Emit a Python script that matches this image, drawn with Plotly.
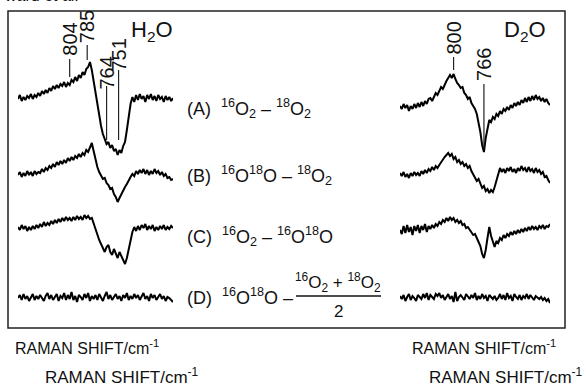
import plotly.graph_objects as go

# ---------------- data ----------------
WAVENUMBER = list(range(860, 691, -2))   # cm-1, 85 points

H2O_A = [1, 5, -1, 3, 0, 4, 2, 6, 1, 5,
         3, 7, 4, 9, 6, 10, 7, 12, 9, 14,
         11, 15, 12, 16, 14, 18, 13, 17, 15, 20,
         18, 23, 19, 25, 22, 28, 25, 31, 33, 38,
         30, 18, 6, -6, -16, -26, -34, -40, -44, -42,
         -48, -45, -51, -49, -55, -50, -53, -46, -42, -30,
         -16, -4, 3, -2, 5, 0, 6, 1, 4, -2,
         5, 1, 6, 0, 4, -1, 5, 1, 3, -2,
         4, 0, 3, -1, 2]
H2O_B = [0, 3, -2, 2, -1, 4, 0, 3, -1, 4,
         1, 3, 2, 6, 3, 7, 5, 9, 7, 11,
         8, 13, 10, 14, 11, 15, 12, 17, 14, 18,
         15, 19, 17, 21, 18, 22, 20, 25, 23, 28,
         32, 24, 14, 8, 3, 0, -4, -3, -8, -10,
         -14, -13, -19, -22, -27, -23, -19, -16, -12, -9,
         -5, -2, 1, -1, 4, 1, 5, 2, 6, 1,
         5, 0, 4, 1, 6, 2, 4, 0, 3, -1,
         1, -3, -2, -5, -4]
H2O_C = [3, 0, 5, 1, 4, -1, 3, 0, 4, 1,
         5, 2, 6, 3, 8, 4, 7, 5, 9, 6,
         10, 7, 11, 8, 12, 9, 13, 10, 12, 9,
         13, 10, 14, 11, 13, 10, 15, 12, 14, 11,
         12, 6, 0, -6, -10, -14, -18, -22, -17, -15,
         -22, -25, -19, -24, -28, -22, -26, -30, -34, -28,
         -18, -8, -2, 3, -1, 4, 0, 5, 2, 6,
         0, 4, 1, 5, -1, 3, 0, 4, 1, 5,
         0, 3, 1, 4, 2]
H2O_D = [0, 3, -2, 4, -1, 2, -3, 1, 4, -2,
         2, -1, 3, 0, -3, 2, 5, -1, 3, -2,
         1, 4, -3, 2, 0, 5, -2, 3, -1, 6,
         -2, 2, -4, 3, 1, -2, 4, 0, 5, -3,
         2, -1, 3, -2, 4, 1, -3, 2, 6, -1,
         3, -2, 1, 4, -1, 2, -3, 3, 0, 5,
         -2, 2, -1, 4, 0, 3, -2, 1, 5, -1,
         2, -3, 4, 0, 3, -2, 1, 4, -1, 2,
         -3, 1, 0, -2, -4]

D2O_A = [-6, -9, -4, -8, -5, -11, -6, -9, -4, -8,
         -3, -7, -2, -6, -1, -4, 1, 2, -1, 4,
         7, 5, 10, 13, 11, 16, 19, 22, 25, 22,
         26, 21, 17, 15, 12, 13, 7, 5, 1, 3,
         -3, -6, -9, -14, -22, -32, -45, -52, -38, -27,
         -20, -22, -17, -19, -14, -16, -11, -14, -9, -11,
         -7, -10, -5, -8, -3, -6, -2, -5, 0, -3,
         2, -2, 3, -1, 4, 0, 5, 1, 3, -1,
         2, -2, 1, -3, -5]
D2O_B = [2, -1, 3, -2, 1, -3, 2, -1, 3, 0,
         2, -1, 4, 1, 5, 2, 6, 4, 8, 5,
         9, 7, 10, 13, 15, 18, 20, 22, 19, 21,
         16, 18, 13, 15, 11, 13, 9, 11, 7, 9,
         4, 1, -2, -6, -4, -9, -13, -11, -16, -14,
         -18, -15, -17, -12, -6, 2, 7, 3, 6, 2,
         7, 4, 8, 3, 6, 2, 7, 4, 9, 5,
         7, 3, 8, 4, 6, 2, 7, 3, 5, 1,
         3, -2, -1, -5, -8]
D2O_C = [0, -4, 4, -3, 5, -2, 3, -5, 4, -1,
         5, -3, 4, 0, 6, -2, 4, 1, 5, 2,
         6, 4, 8, 6, 10, 8, 12, 9, 13, 10,
         12, 8, 10, 7, 9, 5, 6, 2, 3, 0,
         -2, -5, -4, -9, -12, -16, -24, -28, -20, -8,
         3, -6, -12, -17, -11, -13, -8, -10, -5, -8,
         -4, -6, -2, -5, -1, -4, 0, -3, 1, -2,
         2, -1, 3, 0, 4, 1, 3, 0, 4, 2,
         5, 1, 4, 3, 6]
D2O_D = [2, -1, 3, -3, 1, 4, -2, 2, 0, -3,
         3, 1, -1, 4, 0, 5, -2, 3, 1, -1,
         4, 2, 5, 0, 3, -2, 1, 4, -1, 2,
         -4, 6, -3, 1, 3, 0, -2, 4, 1, -1,
         3, 0, 5, -2, 2, -1, 4, 0, 2, -3,
         3, 1, -1, 2, -2, 0, 4, -1, 3, -2,
         5, 0, 2, -3, 4, 1, -1, 3, -2, 2,
         0, 4, -1, 3, 1, -2, 2, 0, -1, 1,
         -2, 0, -3, -1, -5]

H2O_PEAKS = [804, 785, 764, 751]
D2O_PEAKS = [800, 766]

ROW_LABELS = [
    "(A)  <sup>16</sup>O<sub>2</sub> – <sup>18</sup>O<sub>2</sub>",
    "(B)  <sup>16</sup>O<sup>18</sup>O – <sup>18</sup>O<sub>2</sub>",
    "(C)  <sup>16</sup>O<sub>2</sub> – <sup>16</sup>O<sup>18</sup>O",
    "(D)  <sup>16</sup>O<sup>18</sup>O –",
]
FRACTION_NUM = "<sup>16</sup>O<sub>2</sub> + <sup>18</sup>O<sub>2</sub>"
FRACTION_DEN = "2"
XLABEL = "RAMAN SHIFT/cm<sup>-1</sup>"

# ---------------- layout helpers ----------------
W, H = 586, 386
ML, MR, MT, MB = 8, 21, 11, 58
PW, PH = W - ML - MR, H - MT - MB
ROW_OFFSET = [228, 153, 98, 30]   # vertical offsets of the stacked spectra
FONT = "Liberation Sans, Arial, sans-serif"
INK = "#111111"


def px(x):
    return (x - ML) / PW


def py(y):
    return (H - MB - y) / PH


def dy(y):  # pixel row -> data y
    return H - MB - y


fig = go.Figure()
h2o = [H2O_A, H2O_B, H2O_C, H2O_D]
d2o = [D2O_A, D2O_B, D2O_C, D2O_D]
line = dict(color="#000000", width=2)
for k in range(4):
    fig.add_trace(go.Scatter(x=WAVENUMBER, y=[v + ROW_OFFSET[k] for v in h2o[k]],
                             mode="lines", line=line, xaxis="x", yaxis="y",
                             showlegend=False, hoverinfo="skip"))
    fig.add_trace(go.Scatter(x=WAVENUMBER, y=[v + ROW_OFFSET[k] for v in d2o[k]],
                             mode="lines", line=line, xaxis="x2", yaxis="y",
                             showlegend=False, hoverinfo="skip"))

ann = []
shapes = []
tf = dict(family=FONT, size=20, color=INK)

# peak labels (rotated) and leader lines
h2o_label_y = [39, 27, 73, 55]
h2o_leader = [(77, 59), (60, 45), (86, 140), (70, 140)]
for w, ly, (a, b) in zip(H2O_PEAKS, h2o_label_y, h2o_leader):
    ann.append(dict(x=w, y=dy(ly), xref="x", yref="y", text=str(w), textangle=-90,
                    showarrow=False, font=tf, xanchor="center", yanchor="middle"))
    shapes.append(dict(type="line", xref="x", yref="y", x0=w, x1=w, y0=dy(a), y1=dy(b),
                       line=dict(color="#222222", width=1.2)))
d2o_label_y = [38, 64]
d2o_leader = [(70, 57), (84, 148)]
for w, ly, (a, b) in zip(D2O_PEAKS, d2o_label_y, d2o_leader):
    ann.append(dict(x=w, y=dy(ly), xref="x2", yref="y", text=str(w), textangle=-90,
                    showarrow=False, font=tf, xanchor="center", yanchor="middle"))
    shapes.append(dict(type="line", xref="x2", yref="y", x0=w, x1=w, y0=dy(a), y1=dy(b),
                       line=dict(color="#222222", width=1.2)))

# solvent labels
big = dict(family=FONT, size=22, color=INK)
ann.append(dict(x=px(152), y=py(31), xref="paper", yref="paper", text="H<sub>2</sub>O",
                showarrow=False, font=big, xanchor="center", yanchor="middle"))
ann.append(dict(x=px(525), y=py(31), xref="paper", yref="paper", text="D<sub>2</sub>O",
                showarrow=False, font=big, xanchor="center", yanchor="middle"))

# row labels
row_y = [108, 175, 236, 296]
lf = dict(family=FONT, size=18, color=INK)
for t, yy in zip(ROW_LABELS, row_y):
    ann.append(dict(x=px(185), y=py(yy), xref="paper", yref="paper", text=t,
                    showarrow=False, font=lf, xanchor="left", yanchor="middle"))
nf = dict(family=FONT, size=17, color=INK)
ann.append(dict(x=px(338), y=py(282), xref="paper", yref="paper", text=FRACTION_NUM,
                showarrow=False, font=nf, xanchor="center", yanchor="middle"))
ann.append(dict(x=px(338), y=py(311), xref="paper", yref="paper", text=FRACTION_DEN,
                showarrow=False, font=nf, xanchor="center", yanchor="middle"))
shapes.append(dict(type="line", xref="paper", yref="paper", x0=px(296), x1=px(381),
                   y0=py(296), y1=py(296), line=dict(color=INK, width=1.3)))

# frame
shapes.append(dict(type="rect", xref="paper", yref="paper", x0=0, x1=1, y0=0, y1=1,
                   line=dict(color="#222222", width=1.5)))

# axis titles
xf1 = dict(family=FONT, size=16, color=INK)
xf2 = dict(family=FONT, size=17, color=INK)
ann.append(dict(x=px(13), y=py(347), xref="paper", yref="paper", text=XLABEL,
                showarrow=False, font=xf1, xanchor="left", yanchor="middle"))
ann.append(dict(x=px(558), y=py(347), xref="paper", yref="paper", text=XLABEL,
                showarrow=False, font=xf1, xanchor="right", yanchor="middle"))
ann.append(dict(x=px(43), y=py(376), xref="paper", yref="paper", text=XLABEL,
                showarrow=False, font=xf2, xanchor="left", yanchor="middle"))
ann.append(dict(x=px(585), y=py(376), xref="paper", yref="paper", text=XLABEL,
                showarrow=False, font=xf2, xanchor="right", yanchor="middle"))
# clipped caption remnant at the very top
ann.append(dict(x=px(2), y=py(-5), xref="paper", yref="paper", text="ward et al.",
                showarrow=False, font=dict(family=FONT, size=16, color=INK),
                xanchor="left", yanchor="middle"))

fig.update_layout(
    width=W, height=H,
    margin=dict(l=ML, r=MR, t=MT, b=MB),
    paper_bgcolor="white", plot_bgcolor="white",
    xaxis=dict(domain=[px(18), px(173)], range=[860, 692], visible=False),
    xaxis2=dict(domain=[px(400), px(550)], range=[860, 692], visible=False, anchor="y"),
    yaxis=dict(range=[0, PH], visible=False),
    annotations=ann, shapes=shapes, showlegend=False,
)
fig.write_html("out.html")
